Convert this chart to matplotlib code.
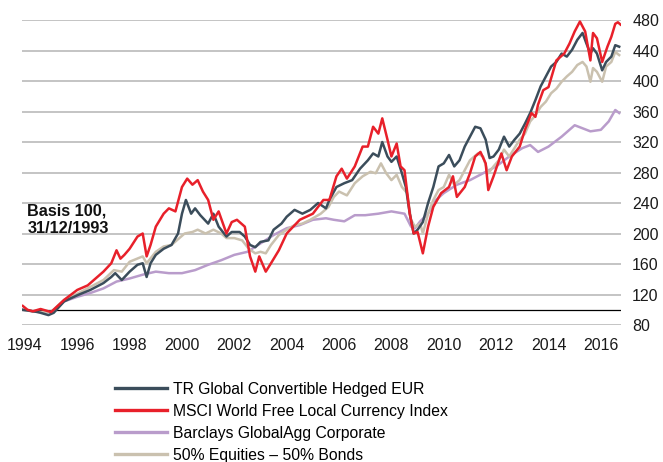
import matplotlib
matplotlib.use("Agg")
import matplotlib.pyplot as plt
from matplotlib.lines import Line2D

plt.rcParams['font.family'] = ['Liberation Sans', 'DejaVu Sans']

# ---- data (decimal years, index values, basis 100 = 31/12/1993) ----
tr_years = [1993.92, 1994.5, 1994.9, 1995.1, 1995.5, 1996.0, 1996.5, 1997.0, 1997.3, 1997.45, 1997.7,
            1998.0, 1998.3, 1998.5, 1998.65, 1998.8, 1999.0, 1999.3, 1999.6, 1999.85, 2000.0, 2000.15,
            2000.35, 2000.5, 2000.7, 2001.0, 2001.2, 2001.4, 2001.7, 2001.9, 2002.2, 2002.4, 2002.6,
            2002.8, 2003.0, 2003.3, 2003.5, 2003.8, 2004.0, 2004.3, 2004.6, 2004.9, 2005.2, 2005.5,
            2005.63, 2005.9, 2006.2, 2006.5, 2006.8, 2007.1, 2007.3, 2007.5, 2007.65, 2007.85, 2008.0,
            2008.2, 2008.4, 2008.55, 2008.7, 2008.85, 2009.0, 2009.2, 2009.4, 2009.6, 2009.8, 2010.0,
            2010.2, 2010.4, 2010.6, 2010.8, 2011.0, 2011.2, 2011.4, 2011.6, 2011.75, 2011.9, 2012.1,
            2012.3, 2012.5, 2012.7, 2012.9, 2013.1, 2013.3, 2013.5, 2013.7, 2013.9, 2014.1, 2014.3,
            2014.5, 2014.7, 2014.9, 2015.1, 2015.3, 2015.45, 2015.6, 2015.7, 2015.85, 2016.05, 2016.2,
            2016.4, 2016.55, 2016.7]
tr_values = [100, 97, 93, 96, 111, 119, 126, 135, 143, 148, 139,
             150, 159, 161, 143, 161, 172, 180, 185, 200, 226, 244,
             226, 233, 224, 213, 226, 209, 196, 202, 202, 196, 185,
             182, 189, 191, 205, 213, 222, 231, 226, 231, 240, 233,
             244, 261, 266, 270, 285, 296, 305, 301, 320, 301, 294,
             301, 279, 261, 226, 200, 205, 215, 240, 261, 288, 292,
             303, 288, 296, 314, 327, 340, 338, 323, 299, 301, 310,
             327, 314, 323, 331, 344, 358, 375, 393, 406, 419, 425,
             436, 432, 441, 454, 463, 449, 436, 443, 436, 414, 425,
             432, 447, 445]

msci_years = [1993.92, 1994.1, 1994.3, 1994.6, 1995.0, 1995.5, 1996.0, 1996.4, 1996.7, 1997.0, 1997.3,
              1997.5, 1997.65, 1997.8, 1998.0, 1998.3, 1998.5, 1998.65, 1998.8, 1999.0, 1999.3, 1999.5,
              1999.75, 2000.0, 2000.2, 2000.4, 2000.6, 2000.8, 2001.0, 2001.2, 2001.4, 2001.7, 2001.9,
              2002.1, 2002.4, 2002.6, 2002.8, 2002.95, 2003.2, 2003.4, 2003.7, 2004.0, 2004.5, 2005.0,
              2005.4, 2005.63, 2005.9, 2006.1, 2006.3, 2006.6, 2006.9, 2007.1, 2007.3, 2007.5, 2007.65,
              2007.85, 2008.0, 2008.2, 2008.35, 2008.5, 2008.7, 2008.85, 2009.0, 2009.2, 2009.4, 2009.6,
              2009.9, 2010.2, 2010.35, 2010.5, 2010.8, 2011.0, 2011.2, 2011.4, 2011.6, 2011.7, 2011.9,
              2012.2, 2012.4, 2012.6, 2012.9, 2013.1, 2013.35, 2013.5, 2013.6, 2013.8, 2014.0, 2014.3,
              2014.6, 2014.8, 2015.0, 2015.2, 2015.4, 2015.6, 2015.7, 2015.85, 2016.05, 2016.25, 2016.4,
              2016.55, 2016.65, 2016.75]
msci_values = [105, 100, 98, 101, 97, 113, 126, 132, 141, 150, 161,
               178, 167, 172, 180, 196, 200, 170, 185, 209, 226, 233,
               229, 261, 272, 264, 270, 255, 244, 218, 229, 200, 215,
               218, 209, 170, 150, 170, 150, 161, 178, 200, 218, 226,
               244, 244, 275, 285, 272, 288, 314, 314, 340, 331, 351,
               323, 301, 318, 288, 283, 226, 200, 202, 174, 209, 235,
               253, 261, 275, 248, 261, 279, 301, 307, 292, 257, 275,
               305, 283, 301, 314, 336, 358, 353, 369, 388, 392, 427,
               436, 449, 465, 478, 465, 427, 463, 456, 425, 445, 458,
               475, 477, 474]

agg_years = [1993.92, 1994.5, 1995.0, 1995.5, 1996.0, 1996.5, 1997.0, 1997.5, 1998.0, 1998.5, 1999.0,
             1999.5, 2000.0, 2000.5, 2001.0, 2001.5, 2002.0, 2002.5, 2003.0, 2003.5, 2004.0, 2004.5,
             2005.0, 2005.5, 2005.8, 2006.2, 2006.6, 2007.0, 2007.5, 2008.0, 2008.5, 2008.75, 2008.9,
             2009.1, 2009.4, 2009.7, 2010.0, 2010.5, 2011.0, 2011.5, 2012.0, 2012.5, 2013.0, 2013.3,
             2013.6, 2014.0, 2014.5, 2015.0, 2015.3, 2015.6, 2016.0, 2016.3, 2016.55, 2016.7]
agg_values = [100, 97, 97, 111, 117, 122, 128, 137, 141, 146, 150,
              148, 148, 152, 159, 165, 172, 176, 187, 198, 207, 211,
              218, 220, 218, 216, 224, 224, 226, 229, 226, 209, 207,
              216, 226, 244, 253, 264, 270, 279, 288, 301, 312, 316,
              307, 314, 327, 342, 338, 334, 336, 347, 362, 358]

mix_years = [1993.92, 1994.5, 1995.0, 1995.5, 1996.0, 1996.5, 1997.0, 1997.4, 1997.7, 1998.0, 1998.5,
             1998.65, 1999.0, 1999.3, 1999.6, 1999.9, 2000.1, 2000.4, 2000.6, 2000.9, 2001.2, 2001.5,
             2001.7, 2002.0, 2002.3, 2002.55, 2002.8, 2003.0, 2003.2, 2003.4, 2003.7, 2004.0, 2004.3,
             2004.6, 2004.9, 2005.3, 2005.6, 2005.8, 2006.0, 2006.3, 2006.6, 2006.9, 2007.2, 2007.4,
             2007.6, 2007.8, 2008.0, 2008.2, 2008.4, 2008.6, 2008.75, 2008.9, 2009.1, 2009.2, 2009.4,
             2009.6, 2009.8, 2010.0, 2010.2, 2010.4, 2010.6, 2010.8, 2011.0, 2011.3, 2011.5, 2011.7,
             2011.9, 2012.1, 2012.3, 2012.5, 2012.7, 2012.9, 2013.1, 2013.3, 2013.5, 2013.7, 2013.9,
             2014.1, 2014.3, 2014.5, 2014.7, 2014.9, 2015.1, 2015.3, 2015.45, 2015.6, 2015.7, 2015.85,
             2016.05, 2016.2, 2016.4, 2016.55, 2016.7]
mix_values = [100, 97, 97, 113, 121, 130, 139, 152, 150, 163, 170,
              161, 176, 183, 185, 194, 200, 202, 205, 200, 205, 200,
              194, 194, 191, 180, 174, 176, 174, 185, 198, 205, 211,
              213, 218, 226, 235, 248, 255, 250, 266, 275, 281, 279,
              292, 279, 270, 277, 261, 253, 218, 209, 213, 200, 226,
              244, 257, 261, 277, 264, 270, 283, 296, 305, 301, 279,
              288, 296, 310, 301, 312, 323, 331, 347, 355, 366, 373,
              384, 390, 399, 406, 412, 421, 425, 419, 399, 417, 412,
              399, 419, 425, 438, 434]

labels = ["TR Global Convertible Hedged EUR",
          "MSCI World Free Local Currency Index",
          "Barclays GlobalAgg Corporate",
          "50% Equities \u2013 50% Bonds"]
colors = ["#3b4d5b", "#e8202a", "#b99ccb", "#cac1af"]
y_ticks = [80, 120, 160, 200, 240, 280, 320, 360, 400, 440, 480]
x_ticks = [1994, 1996, 1998, 2000, 2002, 2004, 2006, 2008, 2010, 2012, 2014, 2016]

fig = plt.figure(figsize=(6.63, 4.62), dpi=100)
ax = fig.add_axes([0.0332, 0.2965, 0.9035, 0.6602])

for yv in y_ticks:
    ax.axhline(yv, color="#c4c4c4", lw=1.4, zorder=1)
ax.axhline(100, color="black", lw=0.9, zorder=2)

lw = 1.8
ax.plot(agg_years, agg_values, color=colors[2], lw=lw, zorder=3)
ax.plot(mix_years, mix_values, color=colors[3], lw=lw, zorder=4)
ax.plot(tr_years, tr_values, color=colors[0], lw=lw, zorder=5)
ax.plot(msci_years, msci_values, color=colors[1], lw=lw, zorder=6)

ax.set_xlim(1993.89, 2016.77)
ax.set_ylim(80, 480)
ax.set_xticks(x_ticks)
ax.set_yticks(y_ticks)
ax.yaxis.tick_right()
ax.tick_params(axis='both', length=0, labelsize=11.5, colors="#1a1a1a")
ax.tick_params(axis='x', pad=9)
ax.tick_params(axis='y', pad=8)
for s in ax.spines.values():
    s.set_visible(False)

ax.text(0.009, 0.345, "Basis 100,\n31/12/1993", transform=ax.transAxes,
        fontsize=11.7, fontweight='bold', va='center', ha='left', linespacing=1.25,
        color="#111111")

handles = [Line2D([0], [0], color=c, lw=2.4) for c in colors]
fig.legend(handles, labels, loc='upper left', bbox_to_anchor=(0.1736, 0.174),
           frameon=False, fontsize=11.3, handlelength=3.3, handletextpad=0.4,
           labelspacing=0.45, borderaxespad=0, borderpad=0)

fig.savefig("out.png", dpi=100)
